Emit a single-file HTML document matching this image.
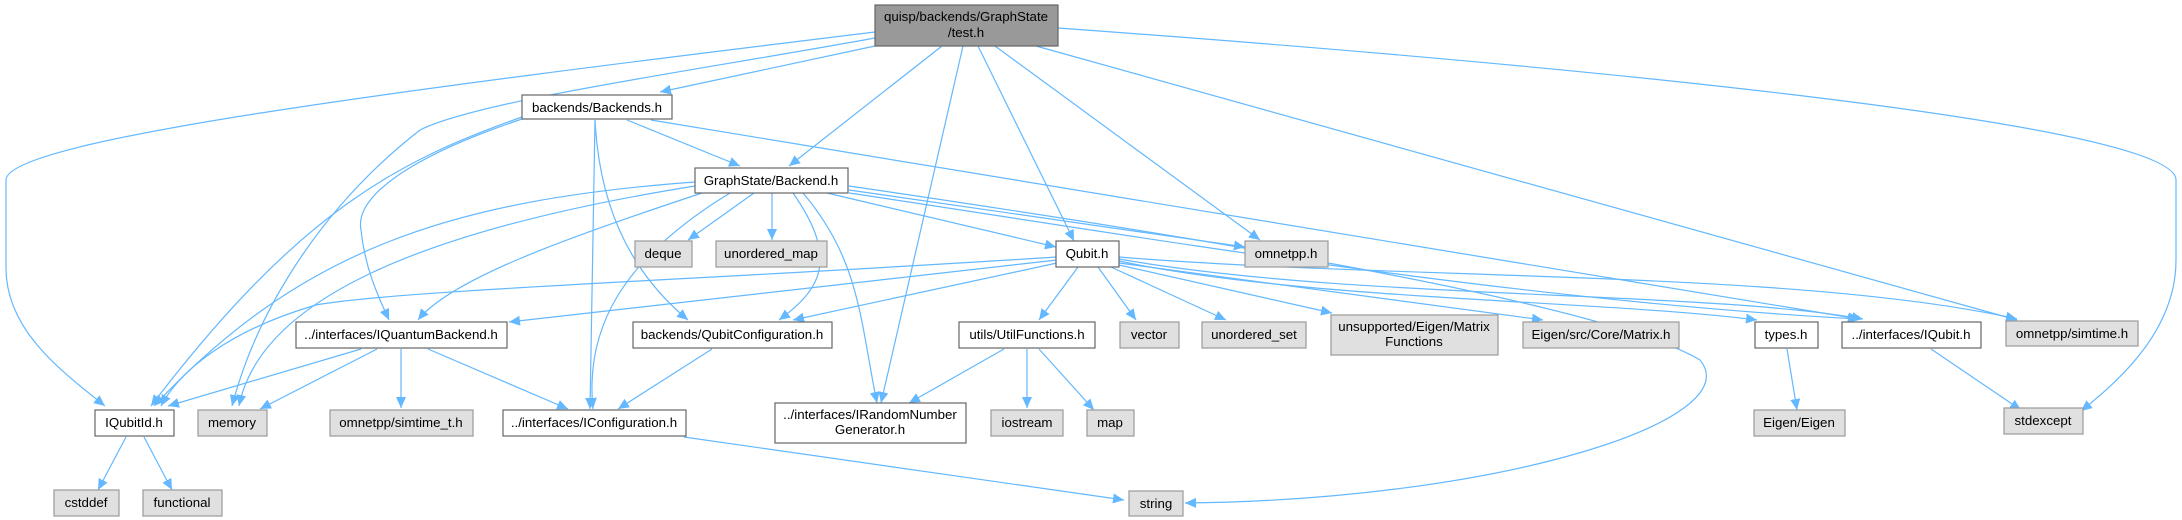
<!DOCTYPE html>
<html><head><meta charset="utf-8"><style>
html,body{margin:0;padding:0;background:#fff;}
svg{display:block;}
text{font-family:"Liberation Sans",Arial,sans-serif;font-size:13.3px;fill:#000;}
.w{fill:#fff;stroke:#666;stroke-width:1.2;}
.g{fill:#e0e0e0;stroke:#999;stroke-width:1.2;}
.d{fill:#999;stroke:#666;stroke-width:1.2;}
path.e{fill:none;stroke:#63b8ff;stroke-width:1.2;marker-end:url(#a);}
</style></head><body>
<svg width="2182" height="520" viewBox="0 0 2182 520" xmlns="http://www.w3.org/2000/svg">
<defs><marker id="a" markerUnits="userSpaceOnUse" markerWidth="12" markerHeight="10" refX="11" refY="5" orient="auto"><path d="M0,0 L11,5 L0,10 z" fill="#63b8ff"/></marker></defs>
<!-- edges -->
<path class="e" d="M875,32 C400,90 6,140 6,180 L6,268 C6,330 60,370 105,406"/>
<path class="e" d="M875,38 C700,70 480,100 420,130 C330,200 260,300 232,406"/>
<path class="e" d="M875,46 L660,92"/>
<path class="e" d="M942,46 L789,166"/>
<path class="e" d="M963,46 L881,403"/>
<path class="e" d="M978,46 L1074,241"/>
<path class="e" d="M995,46 L1260,240"/>
<path class="e" d="M1036,46 L2017,320"/>
<path class="e" d="M1058,28 C1500,60 2176,120 2176,180 L2176,260 C2176,330 2120,380 2081,411"/>
<path class="e" d="M522,117 C400,160 300,210 151,406"/>
<path class="e" d="M522,119 C400,160 355,200 361,230 C365,270 380,300 389,320"/>
<path class="e" d="M595,120 L590,409"/>
<path class="e" d="M595,120 C600,220 640,280 688,320"/>
<path class="e" d="M627,120 L740,166"/>
<path class="e" d="M651,120 L1859,319"/>
<path class="e" d="M695,182 C450,200 300,250 154,406"/>
<path class="e" d="M695,186 C420,230 260,300 239,406"/>
<path class="e" d="M702,193 C560,240 450,280 418,320"/>
<path class="e" d="M730,193 C620,260 585,330 593,409"/>
<path class="e" d="M754,193 L688,240"/>
<path class="e" d="M772,193 L772,240"/>
<path class="e" d="M793,193 C840,260 820,290 779,320"/>
<path class="e" d="M803,193 C860,260 860,320 877,403"/>
<path class="e" d="M827,193 L1056,247"/>
<path class="e" d="M849,190 L1245,247"/>
<path class="e" d="M849,193 C1100,230 1500,300 1859,319"/>
<path class="e" d="M849,186 C1150,230 1600,300 1700,360 C1750,420 1500,500 1185,503"/>
<path class="e" d="M1057,257 C700,280 400,290 316,305 C230,330 180,370 161,406"/>
<path class="e" d="M1057,260 L509,322"/>
<path class="e" d="M1057,263 L793,320"/>
<path class="e" d="M1078,267 L1039,320"/>
<path class="e" d="M1098,267 L1136,320"/>
<path class="e" d="M1111,267 L1226,320"/>
<path class="e" d="M1119,265 L1332,313"/>
<path class="e" d="M1119,263 L1543,320"/>
<path class="e" d="M1119,261 C1300,300 1600,300 1757,320"/>
<path class="e" d="M1119,259 C1350,300 1700,290 1863,319"/>
<path class="e" d="M1119,257 C1400,280 1800,270 2017,319"/>
<path class="e" d="M1004,349 L909,403"/>
<path class="e" d="M1027,349 L1027,408"/>
<path class="e" d="M1039,349 L1094,410"/>
<path class="e" d="M712,349 L618,409"/>
<path class="e" d="M361,349 L168,406"/>
<path class="e" d="M377,349 L260,409"/>
<path class="e" d="M401,349 L401,408"/>
<path class="e" d="M428,349 L568,409"/>
<path class="e" d="M684,437 L1124,500"/>
<path class="e" d="M126,437 L98,490"/>
<path class="e" d="M144,437 L172,490"/>
<path class="e" d="M1787,349 L1797,410"/>
<path class="e" d="M1931,349 L2021,410"/>
<!-- nodes -->
<rect class="d" x="875" y="5" width="183" height="41"/><text x="966" y="21" text-anchor="middle">quisp/backends/GraphState</text><text x="966" y="37" text-anchor="middle">/test.h</text>
<rect class="w" x="522" y="95" width="150" height="24"/><text x="597" y="112" text-anchor="middle">backends/Backends.h</text>
<rect class="w" x="695" y="168" width="153" height="25"/><text x="771" y="185" text-anchor="middle">GraphState/Backend.h</text>
<rect class="g" x="635" y="241" width="57" height="26"/><text x="663" y="258" text-anchor="middle">deque</text>
<rect class="g" x="716" y="241" width="111" height="26"/><text x="771" y="258" text-anchor="middle">unordered_map</text>
<rect class="w" x="1056" y="241" width="63" height="26"/><text x="1087" y="258" text-anchor="middle">Qubit.h</text>
<rect class="g" x="1245" y="241" width="83" height="26"/><text x="1286" y="258" text-anchor="middle">omnetpp.h</text>
<rect class="w" x="296" y="322" width="211" height="26"/><text x="401" y="339" text-anchor="middle">../interfaces/IQuantumBackend.h</text>
<rect class="w" x="633" y="322" width="199" height="26"/><text x="732" y="339" text-anchor="middle">backends/QubitConfiguration.h</text>
<rect class="w" x="959" y="322" width="136" height="26"/><text x="1027" y="339" text-anchor="middle">utils/UtilFunctions.h</text>
<rect class="g" x="1120" y="322" width="59" height="26"/><text x="1149" y="339" text-anchor="middle">vector</text>
<rect class="g" x="1202" y="322" width="104" height="26"/><text x="1254" y="339" text-anchor="middle">unordered_set</text>
<rect class="g" x="1331" y="315" width="167" height="40"/><text x="1414" y="331" text-anchor="middle">unsupported/Eigen/Matrix</text><text x="1414" y="346" text-anchor="middle">Functions</text>
<rect class="g" x="1523" y="322" width="156" height="26"/><text x="1601" y="339" text-anchor="middle">Eigen/src/Core/Matrix.h</text>
<rect class="w" x="1755" y="322" width="63" height="26"/><text x="1786" y="339" text-anchor="middle">types.h</text>
<rect class="w" x="1842" y="322" width="139" height="26"/><text x="1911" y="339" text-anchor="middle">../interfaces/IQubit.h</text>
<rect class="g" x="2006" y="321" width="132" height="25"/><text x="2072" y="338" text-anchor="middle">omnetpp/simtime.h</text>
<rect class="w" x="95" y="410" width="79" height="26"/><text x="134" y="427" text-anchor="middle">IQubitId.h</text>
<rect class="g" x="198" y="410" width="69" height="26"/><text x="232" y="427" text-anchor="middle">memory</text>
<rect class="g" x="330" y="410" width="143" height="26"/><text x="401" y="427" text-anchor="middle">omnetpp/simtime_t.h</text>
<rect class="w" x="503" y="410" width="183" height="26"/><text x="594" y="427" text-anchor="middle">../interfaces/IConfiguration.h</text>
<rect class="w" x="775" y="403" width="191" height="40"/><text x="870" y="419" text-anchor="middle">../interfaces/IRandomNumber</text><text x="870" y="434" text-anchor="middle">Generator.h</text>
<rect class="g" x="991" y="410" width="72" height="26"/><text x="1027" y="427" text-anchor="middle">iostream</text>
<rect class="g" x="1087" y="410" width="47" height="26"/><text x="1110" y="427" text-anchor="middle">map</text>
<rect class="g" x="1754" y="410" width="91" height="26"/><text x="1799" y="427" text-anchor="middle">Eigen/Eigen</text>
<rect class="g" x="2004" y="408" width="79" height="26"/><text x="2043" y="425" text-anchor="middle">stdexcept</text>
<rect class="g" x="54" y="490" width="65" height="26"/><text x="86" y="507" text-anchor="middle">cstddef</text>
<rect class="g" x="143" y="490" width="79" height="26"/><text x="182" y="507" text-anchor="middle">functional</text>
<rect class="g" x="1129" y="491" width="54" height="25"/><text x="1156" y="508" text-anchor="middle">string</text>
</svg>
</body></html>
